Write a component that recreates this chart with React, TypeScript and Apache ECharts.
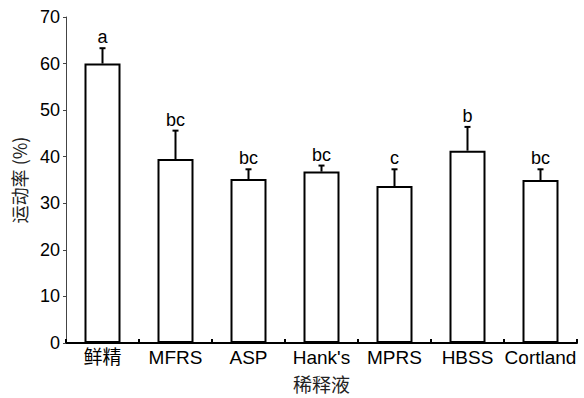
import React, { useEffect, useRef } from "react";
import * as echarts from "echarts";

const categories = ["鲜精", "MFRS", "ASP", "Hank's", "MPRS", "HBSS", "Cortland"];
const motility = [60.0, 39.5, 35.2, 36.8, 33.7, 41.3, 35.0];
const errorUpper = [63.3, 45.6, 37.3, 38.1, 37.3, 46.4, 37.3];
const letters = ["a", "bc", "bc", "bc", "c", "b", "bc"];
const yTicks = [0, 10, 20, 30, 40, 50, 60, 70];

const FONT = "'Liberation Sans', Arial, 'Noto Sans CJK SC', sans-serif";
const CJK = "'Noto Sans CJK SC', sans-serif";

export default function App() {
  const ref = useRef<HTMLDivElement>(null);
  useEffect(() => {
    document.body.style.margin = "0";
    if (!ref.current) return;
    const chart = echarts.init(ref.current, undefined, { renderer: "svg" });
    const errData = categories.map((_, i) => [i, motility[i], errorUpper[i]]);
    chart.setOption({
      animation: false,
      backgroundColor: "#ffffff",
      grid: { left: 66, right: 7, top: 17, bottom: 55, containLabel: false },
      xAxis: {
        type: "category",
        data: categories,
        name: "稀释液",
        nameLocation: "middle",
        nameGap: 31,
        nameTextStyle: { fontFamily: CJK, fontSize: 19, color: "#222" },
        axisLine: { show: true, lineStyle: { color: "#000", width: 2 } },
        axisTick: { show: true, inside: true, length: 4, lineStyle: { color: "#000", width: 2 } },
        axisLabel: {
          fontFamily: FONT,
          fontSize: 19,
          color: "#000",
          margin: 5,
          interval: 0,
        },
        splitLine: { show: false },
      },
      yAxis: {
        type: "value",
        min: yTicks[0],
        max: yTicks[yTicks.length - 1],
        interval: 10,
        name: "运动率 (%)",
        nameLocation: "middle",
        nameGap: 38,
        nameRotate: 90,
        nameTextStyle: { fontFamily: CJK, fontSize: 18, color: "#222" },
        axisLine: { show: true, lineStyle: { color: "#444", width: 1 } },
        axisTick: { show: true, inside: false, length: 3, lineStyle: { color: "#444", width: 1 } },
        axisLabel: { fontFamily: FONT, fontSize: 18, color: "#000", margin: 6 },
        splitLine: { show: false },
      },
      series: [
        {
          type: "bar",
          data: motility,
          barWidth: 36,
          itemStyle: { color: "#ffffff", borderColor: "#000", borderWidth: 2 },
          z: 2,
        },
        {
          type: "custom",
          data: errData,
          z: 3,
          renderItem: (params: any, api: any) => {
            const i = api.value(0);
            const base = api.coord([i, api.value(1)]);
            const top = api.coord([i, api.value(2)]);
            const label = letters[params.dataIndex];
            return {
              type: "group",
              children: [
                {
                  type: "line",
                  shape: { x1: base[0], y1: base[1], x2: top[0], y2: top[1] },
                  style: { stroke: "#000", lineWidth: 2 },
                },
                {
                  type: "line",
                  shape: { x1: top[0] - 3, y1: top[1], x2: top[0] + 3, y2: top[1] },
                  style: { stroke: "#000", lineWidth: 2 },
                },
                {
                  type: "text",
                  x: top[0],
                  y: top[1] - 2,
                  style: {
                    text: label,
                    fontFamily: FONT,
                    fontSize: 18,
                    fill: "#000",
                    align: "center",
                    verticalAlign: "bottom",
                  },
                },
              ],
            };
          },
        },
      ],
    });
    return () => chart.dispose();
  }, []);
  return <div ref={ref} style={{ width: 584, height: 398 }} />;
}
